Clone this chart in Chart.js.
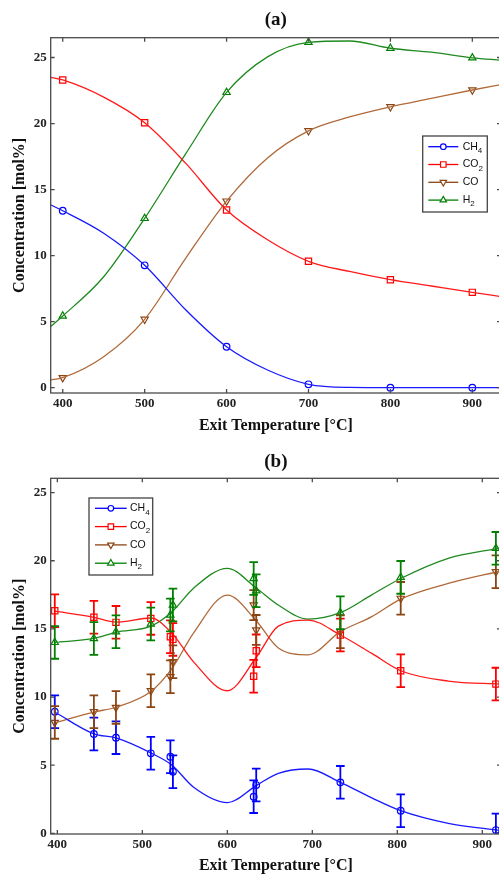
<!DOCTYPE html>
<html>
<head>
<meta charset="utf-8">
<script src="https://cdn.jsdelivr.net/npm/chart.js@4"></script>
<style>
html, body { margin:0; padding:0; background:#fff; overflow:hidden; }
canvas { position:absolute; left:0; display:block; }
#chartA { top:0; }
#chartB { top:440px; }
</style>
</head>
<body>
<canvas id="chartA" width="501" height="440"></canvas>
<canvas id="chartB" width="501" height="440"></canvas>
<script>
// ---------- (a) equilibrium values ----------
const tempsA = [400, 500, 600, 700, 800, 900];
const ch4A = [13.4, 9.27, 3.1, 0.26, 0.0, 0.0];
const co2A = [23.3, 20.06, 13.45, 9.57, 8.18, 7.22];
const coA  = [0.76, 5.18, 14.13, 19.45, 21.27, 22.54];
const h2A  = [5.43, 12.82, 22.36, 26.15, 25.7, 24.98];

// smooth curves of (a)
const fitTempsA = [385, 400, 450, 500, 550, 600, 650, 700, 750, 800, 850, 900, 935];
const ch4FitA = [13.85, 13.4, 11.7, 9.27, 5.9, 3.1, 1.34, 0.26, 0.02, 0.0, 0.0, 0.0, 0.0];
const co2FitA = [23.5, 23.3, 22.0, 20.06, 17.0, 13.45, 11.2, 9.57, 8.8, 8.18, 7.7, 7.22, 6.9];
const coFitA  = [0.58, 0.76, 2.35, 5.18, 9.8, 14.13, 17.4, 19.45, 20.5, 21.27, 21.9, 22.54, 22.95];
const h2FitA  = [4.62, 5.43, 8.4, 12.82, 17.7, 22.36, 25.05, 26.15, 26.25, 25.7, 25.4, 24.98, 24.8];

// ---------- (b) measured values with error bars ----------
const tempsB = [397, 443, 469, 510, 533, 536, 631, 634, 733, 804, 916];
const ch4B = [8.92, 7.29, 7.02, 5.87, 5.62, 4.52, 2.69, 3.54, 3.74, 1.66, 0.24];
const co2B = [16.33, 15.85, 15.48, 15.77, 14.42, 14.23, 11.52, 13.39, 14.55, 11.93, 10.95];
const coB  = [8.14, 8.92, 9.24, 10.46, 11.49, 12.59, 16.75, 14.92, 14.79, 17.24, 19.19];
const h2B  = [14.01, 14.3, 14.79, 15.36, 16.02, 16.75, 18.7, 17.8, 16.19, 18.78, 20.91];
const ch4ErrB = [1.2, 1.2, 1.2, 1.2, 1.2, 1.2, 1.2, 1.2, 1.2, 1.2, 1.2];
const co2ErrB = [1.2, 1.2, 1.2, 1.2, 1.2, 1.2, 1.2, 1.2, 1.2, 1.2, 1.2];
const coErrB  = [1.2, 1.2, 1.2, 1.2, 1.2, 1.2, 1.1, 1.1, 1.2, 1.2, 1.2];
const h2ErrB  = [1.2, 1.2, 1.2, 1.2, 1.2, 1.2, 1.2, 1.2, 1.2, 1.2, 1.2];

// smooth curves of (b)
const fitTempsB = [397, 443, 469, 510, 535, 560, 600, 634, 660, 695, 733, 770, 804, 860, 922];
const ch4FitB = [8.9, 7.3, 7.0, 5.9, 5.0, 3.4, 2.25, 3.5, 4.4, 4.72, 3.74, 2.6, 1.66, 0.73, 0.2];
const co2FitB = [16.3, 15.85, 15.5, 15.8, 14.67, 12.6, 10.46, 12.9, 15.2, 15.65, 14.55, 13.2, 11.93, 11.17, 10.95];
const coFitB  = [8.1, 8.9, 9.25, 10.4, 12.1, 14.67, 17.48, 15.6, 13.6, 13.1, 14.8, 15.9, 17.19, 18.34, 19.25];
const h2FitB  = [14.0, 14.3, 14.75, 15.2, 16.26, 17.97, 19.44, 18.0, 16.75, 15.72, 16.19, 17.5, 18.7, 20.18, 20.95];

const xTicks = [400, 500, 600, 700, 800, 900];
const yTicks = [0, 5, 10, 15, 20, 25];
const names = [['CH', '4'], ['CO', '2'], ['CO', ''], ['H', '2']];

// styles
const lineColors = ['#1a1aff', '#ff1a1a', '#b06a3a', '#1f8a1f'];
const markColors = ['#0000ff', '#ff0000', '#8b4513', '#008000'];
const pStyles = ['circle', 'rect', 'triangle', 'triangle'];
const pRot = [0, 0, 180, 0];
const pRad = [3.3, 4.4, 4.2, 4.2];
const serif = "'Liberation Serif', 'Times New Roman', serif";

function pts(xs, ys) { return xs.map((x, i) => ({x: x, y: ys[i]})); }

function curveSet(xs, ys, i) {
  return { data: pts(xs, ys), borderColor: lineColors[i], borderWidth: 1.3,
    pointRadius: 0, cubicInterpolationMode: 'monotone', fill: false };
}
function markSet(xs, ys, i, errs) {
  return { data: pts(xs, ys), showLine: false, pointStyle: pStyles[i], pointRotation: pRot[i],
    pointRadius: pRad[i], pointBorderColor: markColors[i], pointBackgroundColor: 'rgba(0,0,0,0)',
    pointBorderWidth: 1.2, errors: errs, errColor: markColors[i] };
}

// frame with inward ticks on all four sides
const framePlugin = {
  id: 'frame',
  afterDatasetsDraw(chart) {
    const {ctx, chartArea: a, scales: {x, y}} = chart;
    ctx.save();
    ctx.strokeStyle = '#4a4a4a';
    ctx.lineWidth = 1.3;
    ctx.strokeRect(a.left, a.top, a.right - a.left, a.bottom - a.top);
    ctx.beginPath();
    xTicks.forEach(v => {
      const px = x.getPixelForValue(v);
      ctx.moveTo(px, a.bottom); ctx.lineTo(px, a.bottom - 4);
      ctx.moveTo(px, a.top); ctx.lineTo(px, a.top + 4);
    });
    yTicks.forEach(v => {
      const py = y.getPixelForValue(v);
      ctx.moveTo(a.left, py); ctx.lineTo(a.left + 4, py);
      ctx.moveTo(a.right, py); ctx.lineTo(a.right - 4, py);
    });
    ctx.stroke();
    ctx.restore();
  }
};

const errorPlugin = {
  id: 'errorBars',
  afterDatasetsDraw(chart) {
    const {ctx, chartArea: a, scales: {x, y}} = chart;
    ctx.save();
    ctx.beginPath();
    ctx.rect(a.left, a.top, a.right - a.left, a.bottom - a.top);
    ctx.clip();
    chart.data.datasets.forEach(ds => {
      if (!ds.errors) return;
      ctx.strokeStyle = ds.errColor;
      ctx.lineWidth = 1.8;
      ctx.beginPath();
      ds.data.forEach((p, i) => {
        const px = x.getPixelForValue(p.x);
        const top = y.getPixelForValue(p.y + ds.errors[i]);
        const bot = y.getPixelForValue(p.y - ds.errors[i]);
        ctx.moveTo(px, top); ctx.lineTo(px, bot);
        ctx.moveTo(px - 4.3, top); ctx.lineTo(px + 4.3, top);
        ctx.moveTo(px - 4.3, bot); ctx.lineTo(px + 4.3, bot);
      });
      ctx.stroke();
    });
    ctx.restore();
  }
};

const legendPlugin = {
  id: 'boxLegend',
  afterDraw(chart, args, o) {
    const ctx = chart.ctx;
    ctx.save();
    ctx.fillStyle = '#fff';
    ctx.fillRect(o.x, o.y, o.w, o.h);
    ctx.strokeStyle = '#444';
    ctx.lineWidth = 1.3;
    ctx.strokeRect(o.x, o.y, o.w, o.h);
    names.forEach((n, i) => {
      const ry = o.y + o.first + i * o.gap;
      ctx.strokeStyle = markColors[i];
      ctx.lineWidth = 1.3;
      ctx.beginPath();
      ctx.moveTo(o.x + o.l0, ry); ctx.lineTo(o.x + o.l1, ry);
      ctx.stroke();
      ctx.fillStyle = '#fff';
      ctx.lineWidth = 1.2;
      Chart.helpers.drawPoint(ctx, {pointStyle: pStyles[i], rotation: pRot[i], radius: pRad[i] - 0.5, borderWidth: 1.2},
        o.x + (o.l0 + o.l1) / 2, ry);
      ctx.fillStyle = '#111';
      ctx.textBaseline = 'middle';
      ctx.font = "10.5px 'Liberation Sans Narrow', 'Liberation Sans', sans-serif";
      ctx.fillText(n[0], o.x + o.tx, ry);
      const wMain = ctx.measureText(n[0]).width;
      if (n[1]) {
        ctx.font = "8px 'Liberation Sans', sans-serif";
        ctx.fillText(n[1], o.x + o.tx + wMain, ry + 4);
      }
    });
    ctx.restore();
  }
};

function makeChart(id, cfg) {
  const datasets = [];
  cfg.fits.forEach((f, i) => datasets.push(curveSet(cfg.fitX, f, i)));
  cfg.vals.forEach((v, i) => datasets.push(markSet(cfg.xs, v, i, cfg.errs ? cfg.errs[i] : null)));
  const tickFont = {family: serif, weight: 'bold', size: 13};
  const titleFont = {family: serif, weight: 'bold', size: 16};
  return new Chart(document.getElementById(id), {
    type: 'line',
    data: {datasets: datasets},
    plugins: [errorPlugin, framePlugin, legendPlugin],
    options: {
      responsive: false,
      animation: false,
      devicePixelRatio: 1,
      layout: {padding: 0, autoPadding: false},
      plugins: {
        legend: {display: false},
        tooltip: {enabled: false},
        title: {display: false},
        boxLegend: cfg.legend
      },
      scales: {
        x: {
          type: 'linear', min: cfg.xMin, max: cfg.xMax,
          afterBuildTicks: s => { s.ticks = xTicks.map(v => ({value: v})); },
          afterFit: s => { s.height = cfg.xAxisH; s.paddingLeft = 0; s.paddingRight = 0; },
          grid: {display: false, drawTicks: false},
          border: {display: false},
          ticks: {font: tickFont, color: '#222', padding: 3, maxRotation: 0, autoSkip: false},
          title: {display: true, text: 'Exit Temperature [°C]', color: '#111', font: titleFont,
            padding: {top: 0, bottom: cfg.xTitlePad}}
        },
        x2: {
          type: 'linear', position: 'top', min: cfg.xMin, max: cfg.xMax,
          afterFit: s => { s.height = cfg.topH; s.paddingLeft = 0; s.paddingRight = 0; },
          grid: {display: false, drawTicks: false},
          border: {display: false},
          ticks: {display: false},
          title: {display: true, text: cfg.title, color: '#111',
            font: {family: serif, weight: 'bold', size: 19}, padding: {top: cfg.titleTop, bottom: 0}}
        },
        y: {
          min: cfg.yMin, max: cfg.yMax,
          afterBuildTicks: s => { s.ticks = yTicks.map(v => ({value: v})); },
          afterFit: s => { s.width = 50.7; s.paddingTop = 0; s.paddingBottom = 0; },
          grid: {display: false, drawTicks: false},
          border: {display: false},
          ticks: {font: tickFont, color: '#222', padding: 4},
          title: {display: true, text: 'Concentration [mol%]', color: '#111', font: titleFont,
            padding: {top: 10, bottom: 0}}
        }
      }
    }
  });
}

makeChart('chartA', {
  title: '(a)', topH: 37.7, titleTop: 8.6, xMin: 385.3, xMax: 935, yMin: -0.4, yMax: 26.5,
  xAxisH: 47, xTitlePad: 5,
  xs: tempsA, vals: [ch4A, co2A, coA, h2A],
  fitX: fitTempsA, fits: [ch4FitA, co2FitA, coFitA, h2FitA],
  legend: {x: 422.7, y: 136, w: 64.6, h: 76, first: 10.7, gap: 17.8, l0: 5.6, l1: 35.6, tx: 40}
});

makeChart('chartB', {
  title: '(b)', topH: 38.3, titleTop: 10.3, xMin: 392.2, xMax: 922, yMin: -0.05, yMax: 26.05,
  xAxisH: 46, xTitlePad: 4.3,
  xs: tempsB, vals: [ch4B, co2B, coB, h2B], errs: [ch4ErrB, co2ErrB, coErrB, h2ErrB],
  fitX: fitTempsB, fits: [ch4FitB, co2FitB, coFitB, h2FitB],
  legend: {x: 89, y: 58, w: 63.7, h: 77, first: 10.3, gap: 18.3, l0: 6, l1: 37.7, tx: 41}
});
</script>
</body>
</html>
